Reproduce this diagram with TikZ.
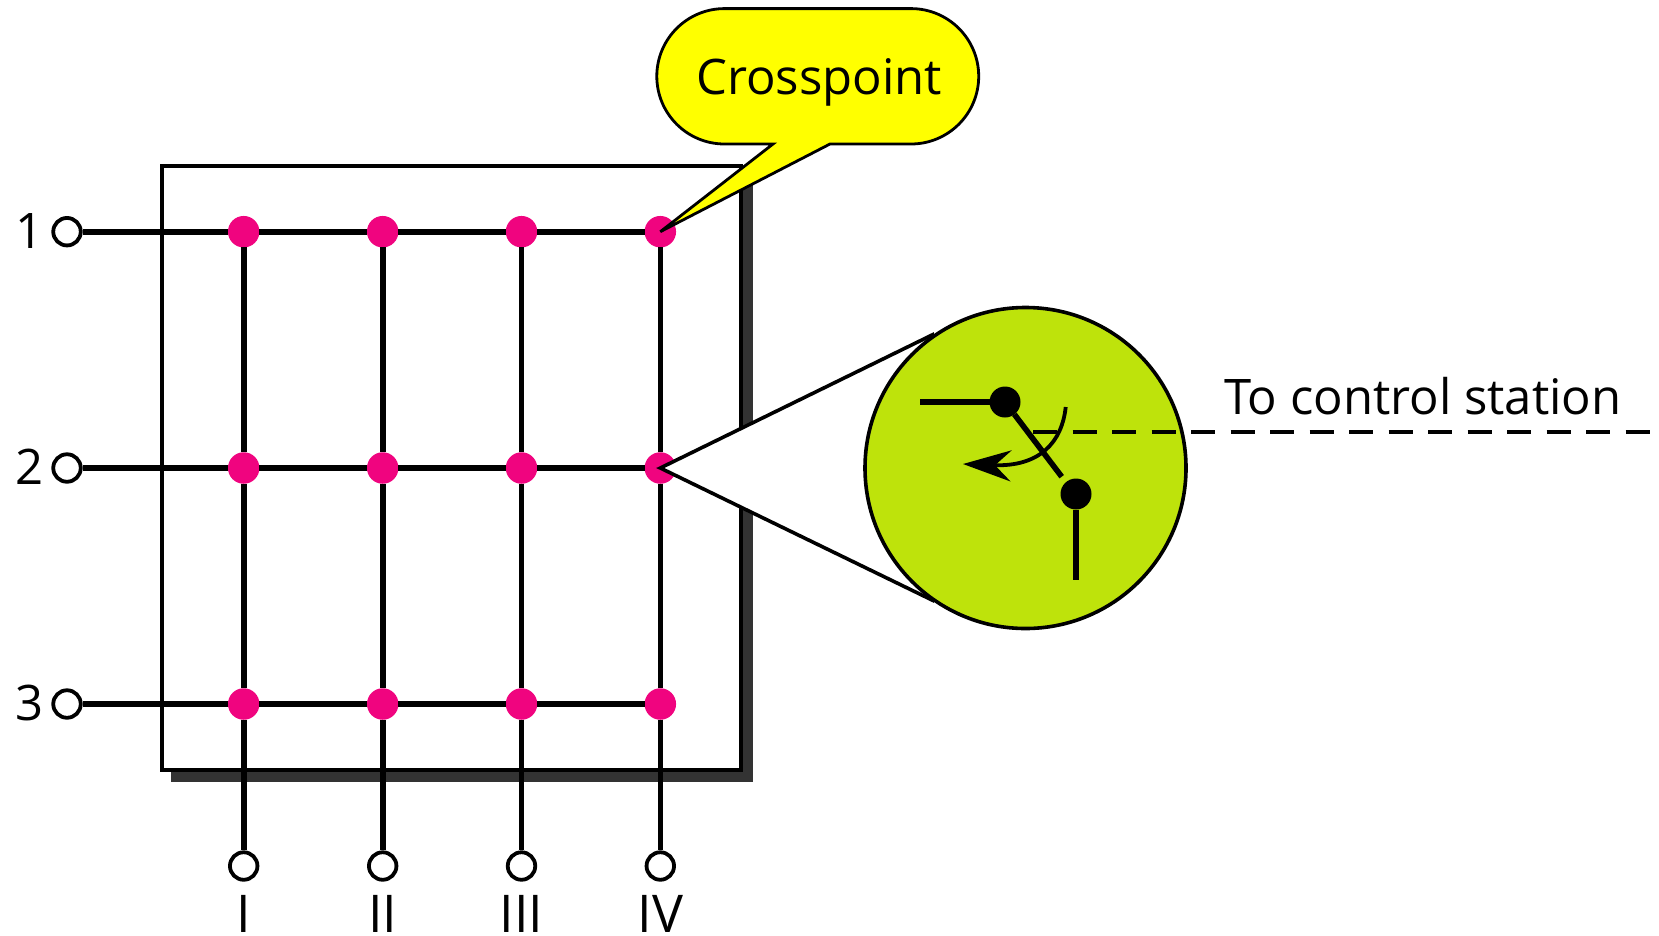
\documentclass[tikz,border=0pt]{standalone}
\usepackage{fontspec}
\setmainfont{Open Sans}
\usetikzlibrary{arrows.meta}
\usetikzlibrary{positioning}
\definecolor{crosspink}{RGB}{240,4,127}
\definecolor{lensgreen}{RGB}{190,227,11}
\definecolor{shadowgray}{RGB}{51,51,51}
\definecolor{balloonyellow}{RGB}{255,255,0}
\tikzstyle{crosspt} = [circle, fill=crosspink, minimum size=31.5pt, inner sep=0pt, outer sep=0pt]
\tikzstyle{port} = [circle, draw=black, fill=white, line width=3.8pt, minimum size=27.5pt, inner sep=0pt, outer sep=1.9pt]
\tikzstyle{wire} = [line width=5.6pt]
\tikzstyle{numeral} = [font=\fontsize{49}{60}\selectfont, inner sep=0pt, text height=33pt, text depth=0pt]
\tikzstyle{roman} = [font=\fontsize{52}{60}\selectfont, inner sep=0pt, text height=37pt, text depth=0pt]
\tikzstyle{dotpt} = [circle, fill=black, minimum size=31pt, inner sep=0pt, outer sep=0pt]

\begin{document}
\begin{tikzpicture}[x=1pt,y=-1pt]
 \useasboundingbox (0,0) rectangle (1659,935);

 \fill [shadowgray] (170.7,175) rectangle (753,782);
 \draw [fill=white, line width=4pt] (161.7,165.7) rectangle (741,770);

 \node (cp11) [crosspt] at (243.7,231.7) {};
 \node (cp12) [crosspt] at (382.7,231.7) {};
 \node (cp13) [crosspt] at (521.5,231.7) {};
 \node (cp14) [crosspt] at (660.3,231.7) {};
 \node (cp21) [crosspt] at (243.7,468) {};
 \node (cp22) [crosspt] at (382.7,468) {};
 \node (cp23) [crosspt] at (521.5,468) {};
 \node (cp24) [crosspt] at (660.3,468) {};
 \node (cp31) [crosspt] at (243.7,704) {};
 \node (cp32) [crosspt] at (382.7,704) {};
 \node (cp33) [crosspt] at (521.5,704) {};
 \node (cp34) [crosspt] at (660.3,704) {};

 \node (in1) [port] at (67,231.7) {};
 \node (in2) [port] at (67,468) {};
 \node (in3) [port] at (67,704) {};
 \node (outI) [port] at (243.7,866) {};
 \node (outII) [port] at (382.7,866) {};
 \node (outIII) [port] at (521.5,866) {};
 \node (outIV) [port] at (660.3,866) {};

 \node (num1) [numeral, left=8pt of in1] {1};
 \node (num2) [numeral, left=8pt of in2] {2};
 \node (num3) [numeral, left=8pt of in3] {3};
 \node (numI) [roman, below=14pt of outI] {I};
 \node (numII) [roman, below=14pt of outII] {II};
 \node (numIII) [roman, below=14pt of outIII] {III};
 \node (numIV) [roman, below=14pt of outIV] {IV};

 \draw [wire] (in1) -- (cp11) -- (cp12) -- (cp13) -- (cp14);
 \draw [wire] (in2) -- (cp21) -- (cp22) -- (cp23) -- (cp24);
 \draw [wire] (in3) -- (cp31) -- (cp32) -- (cp33) -- (cp34);
 \draw [wire] (cp11) -- (cp21) -- (cp31) -- (outI);
 \draw [wire] (cp12) -- (cp22) -- (cp32) -- (outII);
 \draw [wire] (cp13) -- (cp23) -- (cp33) -- (outIII);
 \draw [wire] (cp14) -- (cp24) -- (cp34) -- (outIV);

 \coordinate (tipA) at (660.3,231.7);
 \coordinate (tipB) at (660.3,468);
 \coordinate (coneup) at (932,335);
 \coordinate (conedown) at (932,600);
 \draw [fill=balloonyellow, line width=2.8pt, line join=miter] (tipA) -- (830,144) -- (911,144)
   arc [start angle=-90, end angle=90, radius=67.7pt] -- (724.5,8.6)
   arc [start angle=90, end angle=270, radius=67.7pt] -- (773,144) -- cycle;
 \node (crosslabel) [font=\fontsize{49}{60}\selectfont, inner sep=0pt] at (819,82) {Crosspoint};

 \draw [fill=white, line width=3.6pt] (tipB) -- (coneup) -- (conedown) -- cycle;
 \node (lens) [circle, draw=black, fill=lensgreen, line width=3.6pt, minimum size=321pt, inner sep=0pt] at (1025.5,468) {};

 \coordinate (dashstart) at (1033,431.7);
 \coordinate (dashend) at (1653,431.7);
 \draw [line width=4pt, dash pattern=on 24pt off 15.5pt] (dashstart) -- (dashend);
 \node (ctrllabel) [font=\fontsize{49}{60}\selectfont, inner sep=0pt, anchor=base west] at (1224,414) {To control station};

 \coordinate (swingstart) at (1065.7,407);
 \coordinate (swingend) at (963,464);
 \draw [line width=3.8pt, -{Stealth[length=48pt, width=31pt, inset=16pt]}] (swingstart) .. controls (1062,442) and (1040,467) .. (swingend);

 \node (dot1) [dotpt] at (1005,402) {};
 \node (dot2) [dotpt] at (1076,494) {};
 \coordinate (armleft) at (920,402);
 \coordinate (armend) at (1061.7,476.7);
 \coordinate (armdown) at (1076,580);
 \draw [wire] (armleft) -- (dot1);
 \draw [wire] (dot1) -- (armend);
 \draw [wire] (dot2) -- (armdown);
\end{tikzpicture}
\end{document}
